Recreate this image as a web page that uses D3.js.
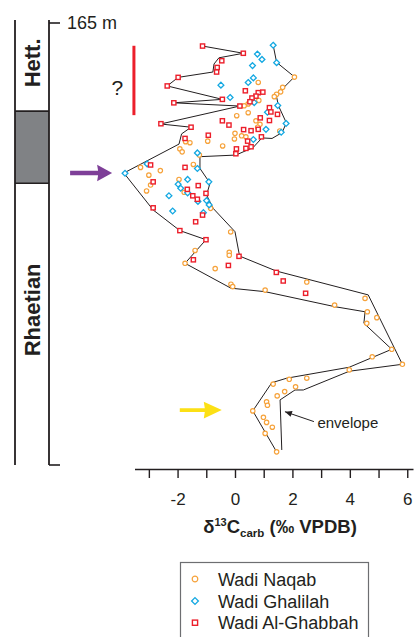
<!DOCTYPE html>
<html><head><meta charset="utf-8">
<script src="https://cdn.jsdelivr.net/npm/d3@7"></script>
<style>
body{margin:0;background:#fff}
svg{display:block}
text{font-family:"Liberation Sans",Arial,Helvetica,sans-serif;fill:#231f20}
</style>
</head><body><div id="chart"></div>
<script>
// δ13C (‰ VPDB), height (m)
const naqab = [[2.07,144.8],[0.81,142.8],[1.66,141.0],[1.59,139.3],[1.45,138.4],[1.37,137.5],[0.83,136.1],[0.46,134.8],[0.32,134.1],[0.06,130.4],[0.46,131.5],[0.73,128.5],[0.87,127.2],[0.79,126.1],[0.00,123.8],[-0.02,121.7],[0.23,122.9],[0.38,122.5],[-0.43,119.1],[-0.95,120.9],[-1.57,120.3],[-1.72,120.7],[-1.92,118.0],[-1.84,116.9],[1.56,124.7],[-1.24,115.7],[-3.29,111.1],[-2.60,109.9],[-3.00,108.2],[-2.94,104.5],[-3.08,102.3],[-1.95,106.6],[-1.45,112.2],[-1.77,101.8],[-0.85,95.8],[-0.15,87.0],[-1.39,80.1],[-1.74,75.3],[-0.20,79.4],[-0.20,78.3],[-0.69,73.3],[-0.14,67.5],[-0.08,66.6],[1.05,65.3],[2.50,68.3],[3.47,59.7],[4.53,62.2],[4.61,57.2],[4.94,55.0],[4.59,52.9],[5.46,43.2],[5.83,37.6],[4.78,40.4],[3.98,35.5],[2.50,32.4],[1.89,32.0],[1.33,30.2],[2.11,29.2],[1.73,27.4],[1.47,25.8],[1.10,23.6],[1.13,22.3],[0.62,20.2],[0.99,17.8],[1.10,15.9],[1.30,14.1],[1.05,11.8],[1.45,4.9]];
const ghalilah = [[1.33,156.7],[0.78,153.4],[0.94,151.4],[0.61,149.1],[1.45,150.2],[0.64,144.5],[0.46,142.8],[-0.49,141.8],[-0.17,137.2],[0.67,135.3],[1.49,134.2],[1.13,131.7],[1.78,127.5],[1.08,125.3],[1.61,124.2],[0.64,121.5],[-1.31,116.5],[-3.83,108.9],[-3.06,112.4],[-1.31,110.7],[-1.65,106.6],[-1.98,104.8],[-1.89,103.3],[-1.65,101.6],[-2.30,100.5],[-1.29,98.4],[-0.99,98.7],[-0.90,97.1],[-0.91,105.7],[-2.17,94.8],[-1.10,94.2]];
const ghabbah = [[-1.13,156.4],[0.29,153.7],[-0.46,150.9],[-0.62,148.4],[-0.64,146.7],[-1.98,144.7],[-2.36,141.5],[0.36,139.7],[-0.44,136.5],[0.81,139.0],[0.97,139.2],[0.73,137.7],[0.59,137.0],[0.52,135.6],[-2.13,135.2],[0.17,134.0],[1.20,133.4],[1.25,131.8],[1.48,130.9],[0.88,129.6],[1.20,128.6],[0.81,125.3],[0.56,124.8],[0.30,125.2],[-0.44,128.5],[-0.21,126.9],[-1.53,126.1],[-2.58,127.4],[-0.93,123.1],[-1.74,121.9],[0.92,122.5],[0.44,120.9],[0.56,118.8],[0.38,118.2],[0.05,118.0],[0.03,116.2],[-2.94,112.0],[-1.74,111.1],[-2.85,105.7],[-1.28,104.3],[-1.66,102.9],[-1.47,100.5],[-1.31,99.2],[-1.01,101.4],[-2.85,96.0],[-1.13,93.3],[-1.37,90.8],[-1.92,87.5],[-1.01,84.1],[-1.45,76.6],[0.14,77.9],[-0.23,74.5],[1.44,71.9],[1.68,68.7],[2.46,64.1]];
const envelopeLeft = [[-1.13,156.4],[0.29,153.7],[-0.56,152.0],[-0.73,149.7],[-0.77,146.7],[-1.98,144.7],[-2.36,141.5],[-0.44,136.5],[-2.14,135.2],[0.17,134.0],[-2.59,127.3],[-1.53,126.1],[-1.86,123.6],[-1.95,119.8],[-3.87,109.0],[-2.85,95.2],[-1.92,87.5],[-1.01,84.1],[-1.74,75.3],[-0.14,66.0],[1.05,64.7],[3.48,59.1],[4.53,57.2],[4.49,52.9],[5.46,43.2],[3.98,36.5],[1.80,32.4],[1.28,30.7],[0.62,20.2],[1.45,4.9]];
const envelopeRight = [[1.33,156.7],[1.45,150.3],[2.07,144.9],[1.57,139.5],[1.45,137.4],[1.51,134.2],[1.79,127.7],[1.64,124.1],[1.29,121.9],[0.94,122.1],[0.63,118.5],[0.03,115.7],[-1.22,115.1],[-1.22,110.7],[-0.87,105.2],[-0.99,100.8],[-0.76,95.8],[0.00,87.1],[0.16,78.0],[1.44,72.4],[4.64,63.5],[5.83,37.6],[3.98,35.0],[2.38,28.0],[2.09,28.0],[1.57,24.3],[1.63,5.6]];
const xTicks = [-3,-2,-1,0,1,2,3,4,5,6];
const xTickLabels = [-2,0,2,4,6];
const stageNames = ["Rhaetian","","Hett."];
const stageBounds = [0,105.2,132.1,166.1];
const seriesNames = ["Wadi Naqab","Wadi Ghalilah","Wadi Al-Ghabbah"];
const topHeightLabel = "165 m";

const W=417,H=637;
const svg=d3.select("#chart").append("svg").attr("width",W).attr("height",H);
const x=d3.scaleLinear().domain([-3.5,6.2]).range([134.5,413]);
const y=d3.scaleLinear().domain([0,165]).range([465,23]);
const ink="#231f20";
const cOr="#f6a23a", cBl="#13a8e2", cRd="#ec1f2b";

// stratigraphic column
const colL=15, colR=49;
svg.append("rect").attr("x",colL).attr("y",y(stageBounds[2])).attr("width",colR-colL)
  .attr("height",y(stageBounds[1])-y(stageBounds[2])).attr("fill","#808285");
[stageBounds[1],stageBounds[2]].forEach(b=>svg.append("line").attr("x1",colL).attr("x2",colR)
  .attr("y1",y(b)).attr("y2",y(b)).attr("stroke",ink).attr("stroke-width",1.6));
svg.append("line").attr("x1",colL).attr("x2",colL).attr("y1",y(stageBounds[3])).attr("y2",y(0)).attr("stroke",ink).attr("stroke-width",1.8);
svg.append("line").attr("x1",colR).attr("x2",colR).attr("y1",y(stageBounds[3])).attr("y2",y(0)).attr("stroke",ink).attr("stroke-width",1.8);
svg.append("line").attr("x1",colR).attr("x2",colR+11).attr("y1",y(165)).attr("y2",y(165)).attr("stroke",ink).attr("stroke-width",1.6);
svg.append("line").attr("x1",colR).attr("x2",colR+11).attr("y1",y(0)).attr("y2",y(0)).attr("stroke",ink).attr("stroke-width",1.6);
svg.append("text").attr("x",colR+18).attr("y",y(165)).attr("dominant-baseline","central")
  .attr("font-size",18).text(topHeightLabel);
svg.append("text").attr("transform",`translate(32,${y(150.1)}) rotate(-90)`).attr("text-anchor","middle")
  .attr("dominant-baseline","central").attr("font-weight","bold").attr("font-size",22).text(stageNames[2]);
svg.append("text").attr("transform",`translate(32,${y(57.9)}) rotate(-90)`).attr("text-anchor","middle")
  .attr("dominant-baseline","central").attr("font-weight","bold").attr("font-size",22).text(stageNames[0]);

// axis
const ax=svg.append("g").attr("transform","translate(0,469)")
  .call(d3.axisBottom(x).tickValues(xTicks).tickSize(9).tickSizeOuter(0).tickPadding(15)
  .tickFormat(d=>xTickLabels.includes(d)?String(d):""));
ax.select(".domain").attr("stroke",ink).attr("stroke-width",1.6);
ax.selectAll(".tick line").attr("stroke",ink).attr("stroke-width",1.4);
ax.selectAll(".tick text").attr("font-size",17).attr("fill",ink)
  .style("font-family",'"Liberation Sans",Arial,sans-serif');
const tt=svg.append("text").attr("x",280).attr("y",533).attr("text-anchor","middle")
  .attr("font-weight","bold").attr("font-size",18.5);
tt.append("tspan").text("δ");
tt.append("tspan").attr("font-size",11).attr("dy",-7).text("13");
tt.append("tspan").attr("dy",7).text("C");
tt.append("tspan").attr("font-size",11.5).attr("dy",4).text("carb");
tt.append("tspan").attr("dy",-4).text(" (‰ VPDB)");

// envelope
const line=d3.line().x(d=>x(d[0])).y(d=>y(d[1]));
[envelopeLeft,envelopeRight].forEach(e=>svg.append("path").attr("d",line(e))
  .attr("fill","none").attr("stroke",ink).attr("stroke-width",1));

// markers
const g=svg.append("g");
function circ(sel,r){return sel.append("circle").attr("r",r).attr("fill","#fff").attr("stroke",cOr).attr("stroke-width",1.2);}
function diam(sel,s){return sel.append("path").attr("d",`M0,${-s}L${s},0L0,${s}L${-s},0Z`).attr("fill","#fff").attr("stroke",cBl).attr("stroke-width",1.3);}
function sq(sel,s){return sel.append("rect").attr("x",-s).attr("y",-s).attr("width",2*s).attr("height",2*s).attr("fill","#fff").attr("stroke",cRd).attr("stroke-width",1.4);}
naqab.forEach(d=>circ(g.append("g").attr("transform",`translate(${x(d[0])},${y(d[1])})`),2.2));
ghalilah.forEach(d=>diam(g.append("g").attr("transform",`translate(${x(d[0])},${y(d[1])})`),2.9));
ghabbah.forEach(d=>sq(g.append("g").attr("transform",`translate(${x(d[0])},${y(d[1])})`),2.1));

// annotations
svg.append("line").attr("x1",x(-3.52)).attr("x2",x(-3.52)).attr("y1",y(156.5)).attr("y2",y(130.6))
  .attr("stroke",cRd).attr("stroke-width",3);
svg.append("text").attr("x",x(-4.10)).attr("y",y(138.1)).attr("text-anchor","middle").attr("font-size",21).text("?");
function bigArrow(tx,ty,len,headL,headH,th,col){
  const p=[[-len,-th/2],[-headL+1,-th/2],[-headL,-headH],[0,0],[-headL,headH],[-headL+1,th/2],[-len,th/2]];
  svg.append("polygon").attr("points",p.map(q=>[tx+q[0],ty+q[1]].join(",")).join(" ")).attr("fill",col);
}
bigArrow(x(-4.28),y(109.0),42,15,8.3,4.5,"#7e3f98");
bigArrow(x(-0.46),y(20.5),42,18,8.3,3.6,"#fce015");
// envelope label & arrow
const ax1=x(2.75), ay1=y(16.2), ax2=x(1.74), ay2=y(19.9);
svg.append("line").attr("x1",ax1).attr("y1",ay1).attr("x2",ax2).attr("y2",ay2).attr("stroke",ink).attr("stroke-width",1);
{
  const ang=Math.atan2(ay2-ay1,ax2-ax1), L=7, Wd=3;
  const bx=ax2-L*Math.cos(ang), by=ay2-L*Math.sin(ang);
  const px=-Math.sin(ang)*Wd, py=Math.cos(ang)*Wd;
  svg.append("polygon").attr("points",`${ax2},${ay2} ${bx+px},${by+py} ${bx-px},${by-py}`).attr("fill",ink);
}
svg.append("text").attr("x",x(2.87)).attr("y",y(13.8)).attr("font-size",15).text("envelope");

// legend
const lg=svg.append("g");
lg.append("rect").attr("x",180.5).attr("y",562.5).attr("width",188).attr("height",90)
  .attr("fill","none").attr("stroke","#6d6e71").attr("stroke-width",1.2);
const ly=[579,601,622.7];
circ(lg.append("g").attr("transform",`translate(195,${ly[0]})`),2.8);
diam(lg.append("g").attr("transform",`translate(195,${ly[1]})`),3.4);
sq(lg.append("g").attr("transform",`translate(195,${ly[2]})`),2.6);
seriesNames.forEach((n,i)=>lg.append("text").attr("x",218).attr("y",ly[i]+6.5).attr("font-size",18).text(n));
</script></body></html>
